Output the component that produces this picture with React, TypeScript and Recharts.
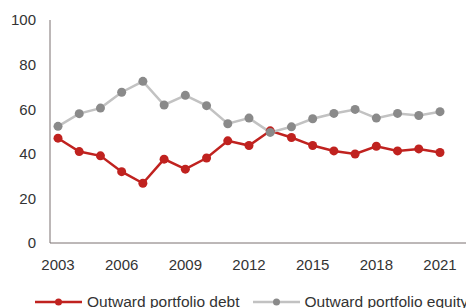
import React from 'react';
import { LineChart, Line, XAxis, YAxis } from 'recharts';

const years = [2003, 2004, 2005, 2006, 2007, 2008, 2009, 2010, 2011, 2012, 2013, 2014, 2015, 2016, 2017, 2018, 2019, 2020, 2021];
const debt = [47, 41, 39.1, 32, 26.8, 37.6, 33.1, 38.1, 45.8, 43.7, 50.3, 47.3, 43.7, 41.3, 39.9, 43.4, 41.3, 42.2, 40.6];
const equity = [52.3, 58, 60.5, 67.6, 72.5, 61.9, 66.2, 61.6, 53.5, 56, 49.6, 52.1, 55.7, 58.1, 59.9, 56, 58.1, 57.2, 58.9];
const yTicks = [0, 20, 40, 60, 80, 100];

const series = [
  { key: 'debt', name: 'Outward portfolio debt', line: '#c0221f', dot: '#c0221f' },
  { key: 'equity', name: 'Outward portfolio equity', line: '#c2c2c2', dot: '#8a8a8a' },
];

const data = years.map((year, i) => ({ year, debt: debt[i], equity: equity[i] }));

const font = '"Liberation Sans", Arial, sans-serif';
const tickStyle = { fontSize: 15, fill: '#333', fontFamily: font };

export default function App() {
  return (
    <div style={{ position: 'fixed', left: 0, top: 0, width: 466, height: 308, overflow: 'hidden', background: '#fff' }}>
      <LineChart width={466} height={308} data={data} margin={{ top: 20, right: 0, left: 0, bottom: 35 }}>
        <XAxis
          dataKey="year"
          interval={2}
          height={30}
          padding={{ left: 8, right: 26 }}
          tickLine={false}
          tickMargin={10}
          stroke="#7a7070"
          tick={tickStyle}
        />
        <YAxis
          domain={[0, 100]}
          ticks={yTicks}
          width={50}
          tickLine={false}
          tickMargin={8}
          stroke="#7a7070"
          tick={tickStyle}
        />
        {series.map((s) => (
          <Line
            key={s.key}
            dataKey={s.key}
            name={s.name}
            stroke={s.line}
            strokeWidth={2.5}
            dot={{ r: 4.5, fill: s.dot, stroke: s.dot, strokeWidth: 0 }}
            isAnimationActive={false}
          />
        ))}
      </LineChart>
      <div style={{ position: 'absolute', top: 292, left: 35, display: 'flex', whiteSpace: 'nowrap', fontFamily: font, fontSize: 15.5, color: '#333', lineHeight: '20px' }}>
        {series.map((s) => (
          <div key={s.key} style={{ display: 'flex', alignItems: 'center', marginRight: 13 }}>
            <svg width={47} height={20} style={{ marginRight: 5 }}>
              <line x1={0} y1={10} x2={47} y2={10} stroke={s.line} strokeWidth={2.5} />
              <circle cx={23.5} cy={10} r={3.5} fill={s.dot} />
            </svg>
            <span>{s.name}</span>
          </div>
        ))}
      </div>
    </div>
  );
}
